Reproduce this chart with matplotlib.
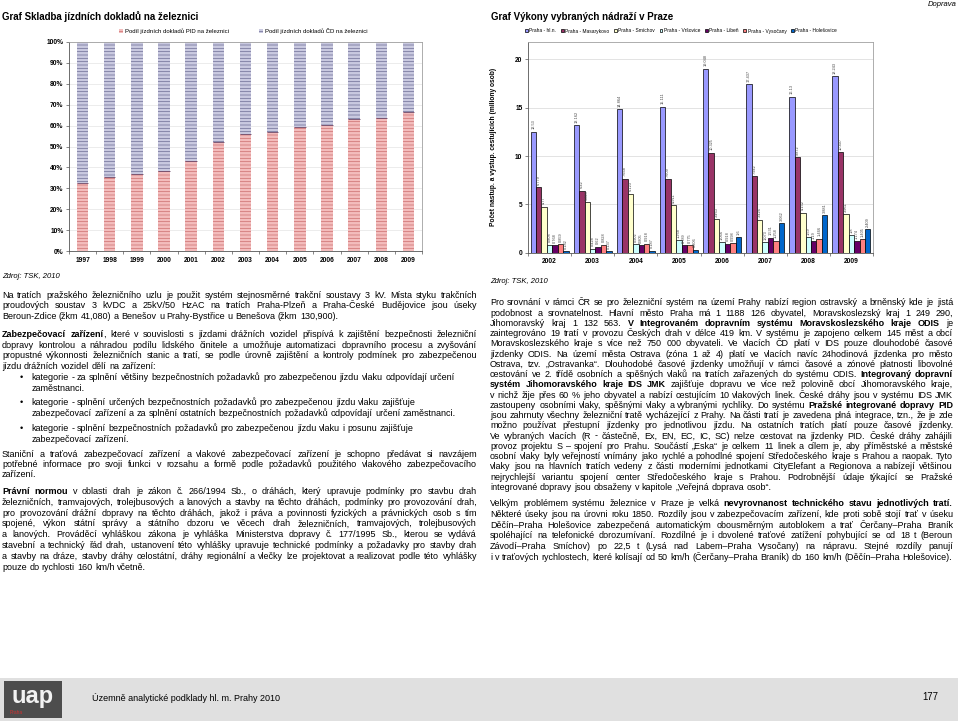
import matplotlib
matplotlib.use('Agg')
import matplotlib.pyplot as plt
import numpy as np
from matplotlib.patches import Rectangle, Patch

plt.rcParams['font.family'] = ['Liberation Sans', 'DejaVu Sans']
plt.rcParams['hatch.linewidth'] = 0.5

# ---- data: left chart (share of tickets on rail, %)
years_left = ['1997', '1998', '1999', '2000', '2001', '2002', '2003',
              '2004', '2005', '2006', '2007', '2008', '2009']
pid_share = [32.5, 35.5, 37.0, 38.5, 43.0, 52.0, 56.0, 57.0, 59.5, 60.5, 63.0, 63.5, 66.5]
left_labels = ['Podíl jízdních dokladů PID na železnici', 'Podíl jízdních dokladů ČD na železnici']

# ---- data: right chart (millions of passengers)
years_right = ['2002', '2003', '2004', '2005', '2006', '2007', '2008', '2009']
stations = ['Praha - hl.n.', 'Praha - Masarykovo', 'Praha - Smíchov', 'Praha - Vršovice',
            'Praha - Libeň', 'Praha - Vysočany', 'Praha - Holešovice']
hl_n = [12.530, 13.162, 14.864, 15.111, 19.048, 17.437, 16.130, 18.243]
masarykovo = [6.779, 6.420, 7.668, 7.609, 10.325, 7.942, 9.872, 10.407]
smichov = [4.770, 5.223, 6.123, 4.911, 3.463, 3.426, 4.152, 3.961]
vrsovice = [0.808, 0.428, 0.902, 1.268, 1.066, 1.073, 1.590, 1.800]
liben = [0.768, 0.620, 0.805, 0.789, 0.918, 1.531, 1.190, 1.174]
vysocany = [0.859, 0.828, 0.918, 0.775, 0.998, 1.258, 1.466, 1.405]
holesovice = [0.182, 0.137, 0.187, 0.306, 1.600, 3.062, 3.881, 2.409]
station_colors = ['#9999ff', '#993366', '#ffffcc', '#ccffff', '#660066', '#ff8080', '#0066cc']

# ---- page texts
left_p1 = [
    'Na tratích pražského železničního uzlu je použit systém stejnosměrné trakční soustavy 3 kV.  Místa styku trakčních',
    'proudových soustav 3 kVDC a 25kV/50 HzAC na tratích Praha-Plzeň a Praha-České Budějovice jsou úseky',
    'Beroun-Zdice (žkm 41,080) a Benešov u Prahy-Bystřice u Benešova (žkm 130,900).',
]
left_p2 = [
    '*Zabezpečovací zařízení*, které v souvislosti s jízdami drážních vozidel přispívá k zajištění bezpečnosti železniční',
    'dopravy kontrolou a náhradou podílu lidského činitele a umožňuje automatizaci dopravního procesu a zvyšování',
    'propustné výkonnosti železničních stanic a tratí, se podle úrovně zajištění a kontroly podmínek pro zabezpečenou',
    'jízdu drážních vozidel dělí na zařízení:',
]
bullets = [
    ['kategorie - za splnění většiny bezpečnostních požadavků pro zabezpečenou jízdu vlaku odpovídají určení',
     'zaměstnanci.'],
    ['kategorie - splnění určených bezpečnostních požadavků pro zabezpečenou jízdu vlaku zajišťuje',
     'zabezpečovací zařízení a za splnění ostatních bezpečnostních požadavků odpovídají určení zaměstnanci.'],
    ['kategorie - splnění bezpečnostních požadavků pro zabezpečenou jízdu vlaku i posunu zajišťuje',
     'zabezpečovací zařízení.'],
]
left_p3 = [
    'Staniční a traťová zabezpečovací zařízení a vlakové zabezpečovací zařízení je schopno předávat si navzájem',
    'potřebné informace pro svoji funkci v rozsahu a formě podle požadavků použitého vlakového zabezpečovacího',
    'zařízení.',
]
left_p4 = [
    '*Právní normou* v oblasti drah je zákon č. 266/1994 Sb., o dráhách, který upravuje podmínky pro stavbu drah',
    'železničních, tramvajových, trolejbusových a lanových a stavby na těchto dráhách, podmínky pro provozování drah,',
    'pro provozování drážní dopravy na těchto dráhách, jakož i práva a povinnosti fyzických a právnických osob s tím',
    'spojené, výkon státní správy a státního dozoru ve věcech drah železničních, tramvajových, trolejbusových',
    'a lanových. Prováděcí vyhláškou zákona je vyhláška Ministerstva dopravy č. 177/1995 Sb., kterou se vydává',
    'stavební a technický řád drah, ustanovení této vyhlášky upravuje technické podmínky a požadavky pro stavby drah',
    'a stavby na dráze, stavby dráhy celostátní, dráhy regionální a vlečky lze projektovat a realizovat podle této vyhlášky',
    'pouze do rychlosti 160 km/h včetně.',
]
right_p1 = [
    'Pro srovnání v rámci ČR se pro železniční systém na území Prahy nabízí region ostravský a brněnský kde je jistá',
    'podobnost a srovnatelnost. Hlavní město Praha má 1 1188 126 obyvatel, Moravskoslezský kraj 1 249 290,',
    'Jihomoravský kraj 1 132 563. *V Integrovaném dopravním systému Moravskoslezského kraje ODIS* je',
    'zaintegrováno 19 tratí v provozu Českých drah v délce 419 km. V systému je zapojeno celkem 145 měst a obcí',
    'Moravskoslezského kraje s více než 750 000 obyvateli. Ve vlacích ČD platí v IDS pouze dlouhodobé časové',
    'jízdenky ODIS. Na území města Ostrava (zóna 1 až 4) platí ve vlacích navíc 24hodinová jízdenka pro město',
    'Ostrava, tzv. „Ostravanka“. Dlouhodobé časové jízdenky umožňují v rámci časové a zónové platnosti libovolné',
    'cestování ve 2. třídě osobních a spěšných vlaků na tratích zařazených do systému ODIS. *Integrovaný dopravní*',
    '*systém Jihomoravského kraje IDS JMK* zajišťuje dopravu ve více než polovině obcí Jihomoravského kraje,',
    'v nichž žije přes 60 % jeho obyvatel a nabízí cestujícím 10 vlakových linek.  České dráhy jsou v systému IDS JMK',
    'zastoupeny osobními vlaky, spěšnými vlaky a vybranými rychlíky. Do systému *Pražské integrované dopravy PID*',
    'jsou zahrnuty všechny železniční tratě vycházející z Prahy. Na části tratí je zavedena plná integrace, tzn., že je zde',
    'možno používat přestupní jízdenky pro jednotlivou jízdu. Na ostatních tratích platí pouze časové jízdenky.',
    'Ve vybraných vlacích (R - částečně, Ex, EN, EC, IC, SC) nelze cestovat na jízdenky PID. České dráhy zahájili',
    'provoz projektu S – spojení pro Prahu. Součástí „Eska“ je celkem 11 linek a cílem je, aby příměstské a městské',
    'osobní vlaky byly veřejností vnímány jako rychlé a pohodlné spojení Středočeského kraje s Prahou a naopak. Tyto',
    'vlaky jsou na hlavních tratích vedeny z  části moderními jednotkami CityElefant a Regionova a nabízejí většinou',
    'nejrychlejší variantu spojení center Středočeského kraje s Prahou. Podrobnější údaje týkající se Pražské',
    'integrované dopravy jsou obsaženy v kapitole „Veřejná doprava osob“.',
]
right_p2 = [
    'Velkým problémem systému železnice v Praze je velká *nevyrovnanost technického stavu jednotlivých tratí.*',
    'Některé úseky jsou na úrovni roku 1850. Rozdíly jsou v zabezpečovacím zařízení, kde proti sobě stojí trať v úseku',
    'Děčín–Praha Holešovice zabezpečená automatickým obousměrným autoblokem a trať Čerčany–Praha Braník',
    'spoléhající na telefonické dorozumívaní.  Rozdílné je i dovolené traťové zatížení pohybující se od 18 t (Beroun',
    'Závodí–Praha Smíchov) po 22,5 t (Lysá nad Labem–Praha Vysočany) na nápravu. Stejné rozdíly panují',
    'i v traťových rychlostech, které kolísají od 50 km/h (Čerčany–Praha Braník) do 160 km/h (Děčín–Praha Holešovice).',
]

W, H = 960, 723
fig = plt.figure(figsize=(W / 100, H / 100), dpi=100)
fig.patch.set_facecolor('white')
renderer = fig.canvas.get_renderer()


def fx(x):
    return x / W


def fy(y):
    return 1 - y / H


def axes_px(x0, y0, x1, y1):
    return fig.add_axes([fx(x0), fy(y1), (x1 - x0) / W, (y1 - y0) / H])


def text_width(s, size, weight='normal', style='normal'):
    t = fig.text(0, 0, s, fontsize=size, fontweight=weight, fontstyle=style)
    w = t.get_window_extent(renderer).width
    t.remove()
    return w


# body font size fitted to a known (non-justified) line width
body = 10 * 426.6 / text_width(bullets[1][1], 10)


def parse(line):
    words, bold = [], False
    for raw in line.split(' '):
        if raw == '':
            continue
        segs = []
        for i, p in enumerate(raw.split('*')):
            if i > 0:
                bold = not bold
            if p:
                segs.append((p, bold))
        if segs:
            words.append(segs)
    return words


def draw_line(x0, x1, y, line, justify, size=body):
    items, widths = [], []
    for segs in parse(line):
        ts, w = [], 0
        for txt, b in segs:
            t = fig.text(0, 0, txt, fontsize=size, fontweight='bold' if b else 'normal',
                         va='baseline', ha='left', color='black')
            tw = t.get_window_extent(renderer).width
            ts.append((t, tw))
            w += tw
        items.append(ts)
        widths.append(w)
    space = size * 0.278 * 100 / 72
    if justify and len(items) > 1:
        space = (x1 - x0 - sum(widths)) / (len(items) - 1)
    cx = x0
    for ts, w in zip(items, widths):
        for t, tw in ts:
            t.set_position((fx(cx), fy(y + 3)))
            cx += tw
        cx += space


def draw_paragraph(x0, x1, y0, step, lines):
    for i, ln in enumerate(lines):
        draw_line(x0, x1, y0 + i * step, ln, justify=(i < len(lines) - 1))


# ---- headers
fig.text(fx(2), fy(17), 'Graf Skladba jízdních dokladů na železnici', fontsize=body * 1.08,
         fontweight='bold', va='center', ha='left')
fig.text(fx(491), fy(17), 'Graf Výkony vybraných nádraží v Praze', fontsize=body * 1.08,
         fontweight='bold', va='center', ha='left')
fig.text(fx(957), fy(5), 'Doprava', fontsize=body * 0.85, fontstyle='italic', va='center', ha='right')

# ---- left chart
ax1 = axes_px(69, 42, 422, 251)
xl = np.arange(len(years_left))
cd_share = [100 - v for v in pid_share]
ax1.bar(xl, pid_share, width=0.42, color='#f3bcbc', edgecolor='#cc6f6f', hatch='-----', linewidth=0, zorder=2)
ax1.bar(xl, cd_share, bottom=pid_share, width=0.42, color='#c9c9e0', edgecolor='#6d6d95',
        hatch='-----', linewidth=0, zorder=2)
ax1.hlines(pid_share, xl - 0.21, xl + 0.21, color='#6b4a6b', lw=0.6, zorder=3)
ax1.set_xlim(-0.5, len(years_left) - 0.5)
ax1.set_ylim(0, 100)
ax1.set_yticks(range(0, 101, 10))
ax1.set_yticklabels([f'{v}%' for v in range(0, 101, 10)], fontsize=4.8, fontweight='bold')
ax1.set_xticks(xl)
ax1.set_xticklabels(years_left, fontsize=4.8, fontweight='bold')
ax1.set_xticks(np.arange(-0.5, len(years_left), 1), minor=True)
ax1.tick_params(axis='x', which='major', length=0, pad=4)
ax1.tick_params(axis='x', which='minor', length=2, width=0.5, color='#555555')
ax1.tick_params(axis='y', length=2, width=0.5, pad=2, color='#555555')
ax1.grid(axis='y', color='#e4e4e4', lw=0.5, zorder=0)
for s in ['top', 'right']:
    ax1.spines[s].set_color('#a0a0a0')
for s in ['left', 'bottom']:
    ax1.spines[s].set_color('#555555')
for s in ax1.spines.values():
    s.set_linewidth(0.6)

fig.legend(handles=[Patch(facecolor='#f3bcbc', edgecolor='#cc6f6f', hatch='-----', lw=0),
                    Patch(facecolor='#c9c9e0', edgecolor='#6d6d95', hatch='-----', lw=0)],
           labels=left_labels, loc='center', bbox_to_anchor=(fx(243), fy(31)), ncol=2,
           frameon=False, fontsize=4.3, handlelength=0.7, handleheight=0.7,
           handletextpad=0.3, columnspacing=5)

# ---- right chart
ax2 = axes_px(528, 42, 873, 252.7)
series = [hl_n, masarykovo, smichov, vrsovice, liben, vysocany, holesovice]
xr = np.arange(len(years_right))
bw = 0.126
for j, (vals, col, name) in enumerate(zip(series, station_colors, stations)):
    pos = xr + (j - 3) * bw
    ax2.bar(pos, vals, width=bw, color=col, edgecolor='black', linewidth=0.5, label=name, zorder=2)
    for p, v in zip(pos, vals):
        lab = f'{v:.3f}'.rstrip('0').rstrip('.')
        ax2.text(p, v + 0.25, lab, rotation=90, ha='center', va='bottom', fontsize=2.8,
                 color='#444444', zorder=3)
ax2.set_xlim(-0.5, len(years_right) - 0.5)
ax2.set_ylim(0, 21.8)
ax2.set_yticks([0, 5, 10, 15, 20])
ax2.set_yticklabels(['0', '5', '10', '15', '20'], fontsize=4.8, fontweight='bold')
ax2.set_xticks(xr)
ax2.set_xticklabels(years_right, fontsize=4.8, fontweight='bold')
ax2.set_xticks(np.arange(-0.5, len(years_right), 1), minor=True)
ax2.tick_params(axis='x', which='major', length=0, pad=4)
ax2.tick_params(axis='x', which='minor', length=2, width=0.5, color='#555555')
ax2.tick_params(axis='y', length=2, width=0.5, pad=2, color='#555555')
ax2.grid(axis='y', color='#d8d8d8', lw=0.5, zorder=0)
ax2.set_ylabel('Počet nastup. a vystup. cestujících (miliony osob)', fontsize=4.8, fontweight='bold')
ax2.yaxis.set_label_coords((497 - 528) / 345, 0.5)
for s in ['top', 'right']:
    ax2.spines[s].set_color('#a0a0a0')
for s in ['left', 'bottom']:
    ax2.spines[s].set_color('#555555')
for s in ax2.spines.values():
    s.set_linewidth(0.6)
h, l = ax2.get_legend_handles_labels()
fig.legend(h, l, loc='center', bbox_to_anchor=(fx(681), fy(31)), ncol=7, frameon=False,
           fontsize=3.5, handlelength=0.6, handleheight=0.6, handletextpad=0.25, columnspacing=1.0)

# ---- sources
fig.text(fx(2), fy(276), 'Zdroj: TSK, 2010', fontsize=body * 0.85, fontstyle='italic', va='center')
fig.text(fx(490), fy(281.5), 'Zdroj: TSK, 2010', fontsize=body * 0.85, fontstyle='italic', va='center')

# ---- left column text
LX0, LX1 = 2, 477
draw_paragraph(LX0, LX1, 294.7, 10.8, left_p1)
draw_paragraph(LX0, LX1, 333.7, 10.8, left_p2)
by = [377.3, 402.3, 428.0]
for y0, pair in zip(by, bullets):
    fig.text(fx(20), fy(y0 + 3), '•', fontsize=body, va='baseline', ha='left')
    for i, ln in enumerate(pair):
        draw_line(31.7, LX1, y0 + i * 10.8, ln, justify=False)
draw_paragraph(LX0, LX1, 453.7, 10.3, left_p3)
draw_paragraph(LX0, LX1, 491.0, 10.8, left_p4)

# ---- right column text
RX0, RX1 = 490, 953
draw_paragraph(RX0, RX1, 302.3, 10.25, right_p1)
draw_paragraph(RX0, RX1, 503.3, 10.65, right_p2)

# ---- footer
fig.patches.append(Rectangle((fx(0), fy(721)), fx(958), (721 - 678) / H, transform=fig.transFigure,
                             facecolor='#e0e0e0', edgecolor='none', zorder=0))
fig.patches.append(Rectangle((fx(4), fy(718)), 58 / W, 37 / H, transform=fig.transFigure,
                             facecolor='#4d4d4d', edgecolor='none', zorder=1))
fig.text(fx(33), fy(697), 'uap', fontsize=17, fontweight='bold', color='#f2f2f2', ha='center',
         va='center', zorder=2)
fig.text(fx(10), fy(713), 'Praha', fontsize=3.5, color='#d03030', ha='left', va='center', zorder=2)
fig.text(fx(92), fy(698), 'Územně analytické podklady hl. m. Prahy 2010', fontsize=body * 1.0,
         va='center', ha='left')
fig.text(fx(930), fy(697), '177', fontsize=body * 1.05, va='center', ha='center')

fig.savefig('out.png', dpi=100)
